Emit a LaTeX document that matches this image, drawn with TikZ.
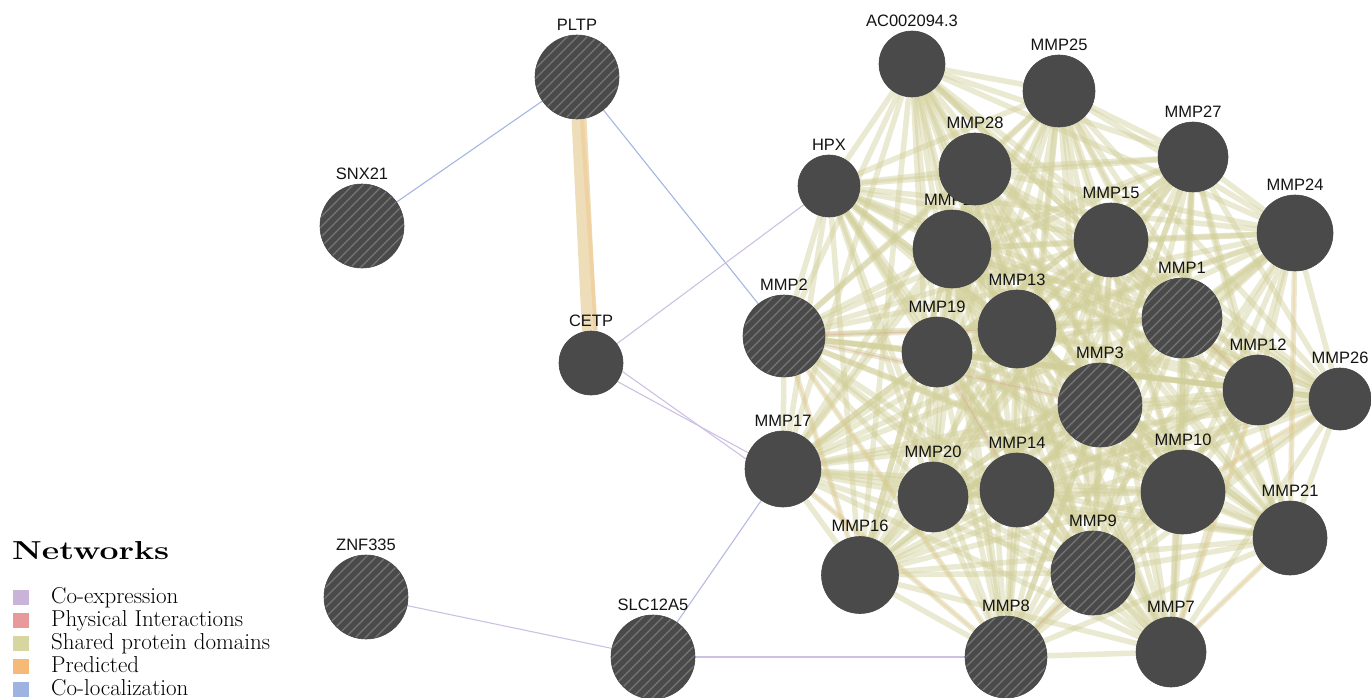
\documentclass[tikz,border=0pt]{standalone}
\usepackage{fontspec}
\usepackage{graphicx}
\newfontfamily\lblfont{Liberation Sans}
\pgfdeclarelayer{bg}
\pgfsetlayers{bg,main}
\definecolor{nodegray}{RGB}{74,74,74}
\definecolor{hatchgray}{RGB}{118,118,118}
\definecolor{spd}{RGB}{208,206,152}
\definecolor{coexp}{RGB}{205,192,226}
\definecolor{phys}{RGB}{232,150,150}
\definecolor{pred}{RGB}{245,190,125}
\definecolor{coloc}{RGB}{165,182,226}
\definecolor{thickbar}{RGB}{237,222,185}
\definecolor{coexpL}{RGB}{201,179,217}
\definecolor{physL}{RGB}{232,154,154}
\definecolor{spdL}{RGB}{215,213,160}
\definecolor{predL}{RGB}{245,185,120}
\definecolor{colocL}{RGB}{157,179,224}
\begin{document}
\begin{tikzpicture}[x=1pt,y=-1pt,
  gene/.style={circle, fill=nodegray, draw=black!72, line width=0.6pt, inner sep=0pt, minimum size=#1pt},
  hatched/.style={path picture={\foreach \k in {-130,-120,...,130}{\draw[hatchgray, line width=1.2pt] ([xshift=\k pt]path picture bounding box.center) ++(-70pt,-70pt) -- ++(140pt,140pt);}}},
  lbl/.style={font=\lblfont\fontsize{16.5}{16.5}\selectfont, text=black!92, inner sep=1pt, label distance=3pt},
  spdedge/.style={spd, line width=5.5pt, opacity=0.45},
  prededge/.style={pred, line width=2pt, opacity=0.3},
  physedge/.style={phys, line width=1.2pt, opacity=0.35},
  coexpedge/.style={coexp, line width=1.1pt},
  colocedge/.style={coloc, line width=1.1pt},
  legtxt/.style={anchor=base west, inner sep=0pt, font=\fontsize{23}{23}\selectfont},
  legbox/.style={inner sep=0pt, minimum width=16pt, minimum height=15pt}
]
\useasboundingbox (0,0) rectangle (1371,697);

% ---------- nodes ----------
\node[gene=84,hatched,label={[lbl]above:PLTP}] (PLTP) at (577,77) {};
\node[gene=84,hatched,label={[lbl]above:SNX21}] (SNX21) at (362,226) {};
\node[gene=64,label={[lbl]above:CETP}] (CETP) at (591,363) {};
\node[gene=84,hatched,label={[lbl]above:ZNF335}] (ZNF335) at (366,597) {};
\node[gene=84,hatched,label={[lbl]above:SLC12A5}] (SLC12A5) at (653,657) {};
\node[gene=82,hatched,label={[lbl]above:MMP2}] (MMP2) at (784,336) {};
\node[gene=76,label={[lbl]above:MMP17}] (MMP17) at (783,469) {};
\node[gene=62,label={[lbl]above:HPX}] (HPX) at (829,186) {};
\node[gene=66,label={[lbl]above:AC002094.3}] (AC) at (912,64) {};
\node[gene=72,label={[lbl]above:MMP25}] (MMP25) at (1059,91) {};
\node[gene=78,label={[lbl]above:MMP11}] (MMP11) at (952,249) {};
\node[gene=72,label={[lbl]above:MMP28}] (MMP28) at (975,169) {};
\node[gene=70,label={[lbl]above:MMP27}] (MMP27) at (1193,157) {};
\node[gene=76,label={[lbl]above:MMP24}] (MMP24) at (1295,233) {};
\node[gene=74,label={[lbl]above:MMP15}] (MMP15) at (1111,240) {};
\node[gene=80,hatched,label={[lbl]above:MMP1}] (MMP1) at (1182,318) {};
\node[gene=78,label={[lbl]above:MMP13}] (MMP13) at (1017,329) {};
\node[gene=70,label={[lbl]above:MMP19}] (MMP19) at (937,352) {};
\node[gene=84,hatched,label={[lbl]above:MMP3}] (MMP3) at (1100,405) {};
\node[gene=70,label={[lbl]above:MMP12}] (MMP12) at (1258,390) {};
\node[gene=62,label={[lbl]above:MMP26}] (MMP26) at (1340,399) {};
\node[gene=70,label={[lbl]above:MMP20}] (MMP20) at (933,497) {};
\node[gene=74,label={[lbl]above:MMP14}] (MMP14) at (1017,490) {};
\node[gene=84,label={[lbl]above:MMP10}] (MMP10) at (1183,492) {};
\node[gene=74,label={[lbl]above:MMP21}] (MMP21) at (1290,538) {};
\node[gene=77,label={[lbl]above:MMP16}] (MMP16) at (860,575) {};
\node[gene=84,hatched,label={[lbl]above:MMP9}] (MMP9) at (1093,573) {};
\node[gene=82,hatched,label={[lbl]above:MMP8}] (MMP8) at (1006,657) {};
\node[gene=70,label={[lbl]above:MMP7}] (MMP7) at (1171,652) {};

% ---------- edges ----------
\begin{pgfonlayer}{bg}
\foreach \a [count=\i] in {HPX,AC,MMP25,MMP28,MMP27,MMP24,MMP11,MMP15,MMP1,MMP13,MMP19,MMP2,MMP3,MMP12,MMP26,MMP17,MMP20,MMP14,MMP10,MMP21,MMP16,MMP9,MMP8,MMP7}{
  \foreach \b [count=\j] in {HPX,AC,MMP25,MMP28,MMP27,MMP24,MMP11,MMP15,MMP1,MMP13,MMP19,MMP2,MMP3,MMP12,MMP26,MMP17,MMP20,MMP14,MMP10,MMP21,MMP16,MMP9,MMP8,MMP7}{
    \ifnum\j>\i \draw[spdedge] (\a) -- (\b); \fi
  }
}
\draw[prededge] (MMP2) -- (MMP16);
\draw[prededge] (MMP17) -- (MMP8);
\draw[prededge] (MMP2) -- (MMP8);
\draw[prededge] (MMP12) -- (MMP7);
\draw[prededge] (MMP21) -- (MMP7);
\draw[prededge] (MMP24) -- (MMP21);
\draw[prededge] (MMP26) -- (MMP10);
\draw[physedge] (MMP2) -- (MMP13);
\draw[physedge] (MMP2) -- (MMP3);
\draw[physedge] (MMP9) -- (MMP8);
\draw[physedge] (MMP1) -- (MMP12);
\draw[physedge] (MMP19) -- (MMP14);

\draw[thickbar, line width=15pt] (PLTP) -- (CETP);
\draw[pred, line width=4pt, opacity=0.4] ([xshift=5pt]PLTP.south) -- ([xshift=5pt]CETP.north);
\draw[colocedge] (PLTP) -- (SNX21);
\draw[colocedge] (PLTP) -- (MMP2);
\draw[colocedge, coexp] (CETP) -- (HPX);
\draw[coexpedge] (CETP.-15) -- (MMP17.165);
\draw[coexpedge] (CETP.-35) -- (MMP17.155);
\draw[coexpedge, coloc!60!coexp] (MMP17) -- (SLC12A5);
\draw[coexpedge] (ZNF335) -- (SLC12A5);
\draw[coexpedge] (SLC12A5) -- (MMP8);
\end{pgfonlayer}

% ---------- legend ----------
\node[anchor=base west, inner sep=0pt, font=\bfseries\fontsize{26}{26}\selectfont] (nettitle) at (12,559) {\scalebox{1.3}[1]{Networks}};
\node[legbox, fill=coexpL] (b1) at (21,597) {};
\node[legbox, fill=physL] (b2) at (21,620) {};
\node[legbox, fill=spdL] (b3) at (21,643) {};
\node[legbox, fill=predL] (b4) at (21,666) {};
\node[legbox, fill=colocL] (b5) at (21,689) {};
\node[legtxt] (t1) at (51,603) {Co-expression};
\node[legtxt] (t2) at (51,626) {Physical Interactions};
\node[legtxt] (t3) at (51,649) {Shared protein domains};
\node[legtxt] (t4) at (51,672) {Predicted};
\node[legtxt] (t5) at (51,695) {Co-localization};
\end{tikzpicture}
\end{document}
